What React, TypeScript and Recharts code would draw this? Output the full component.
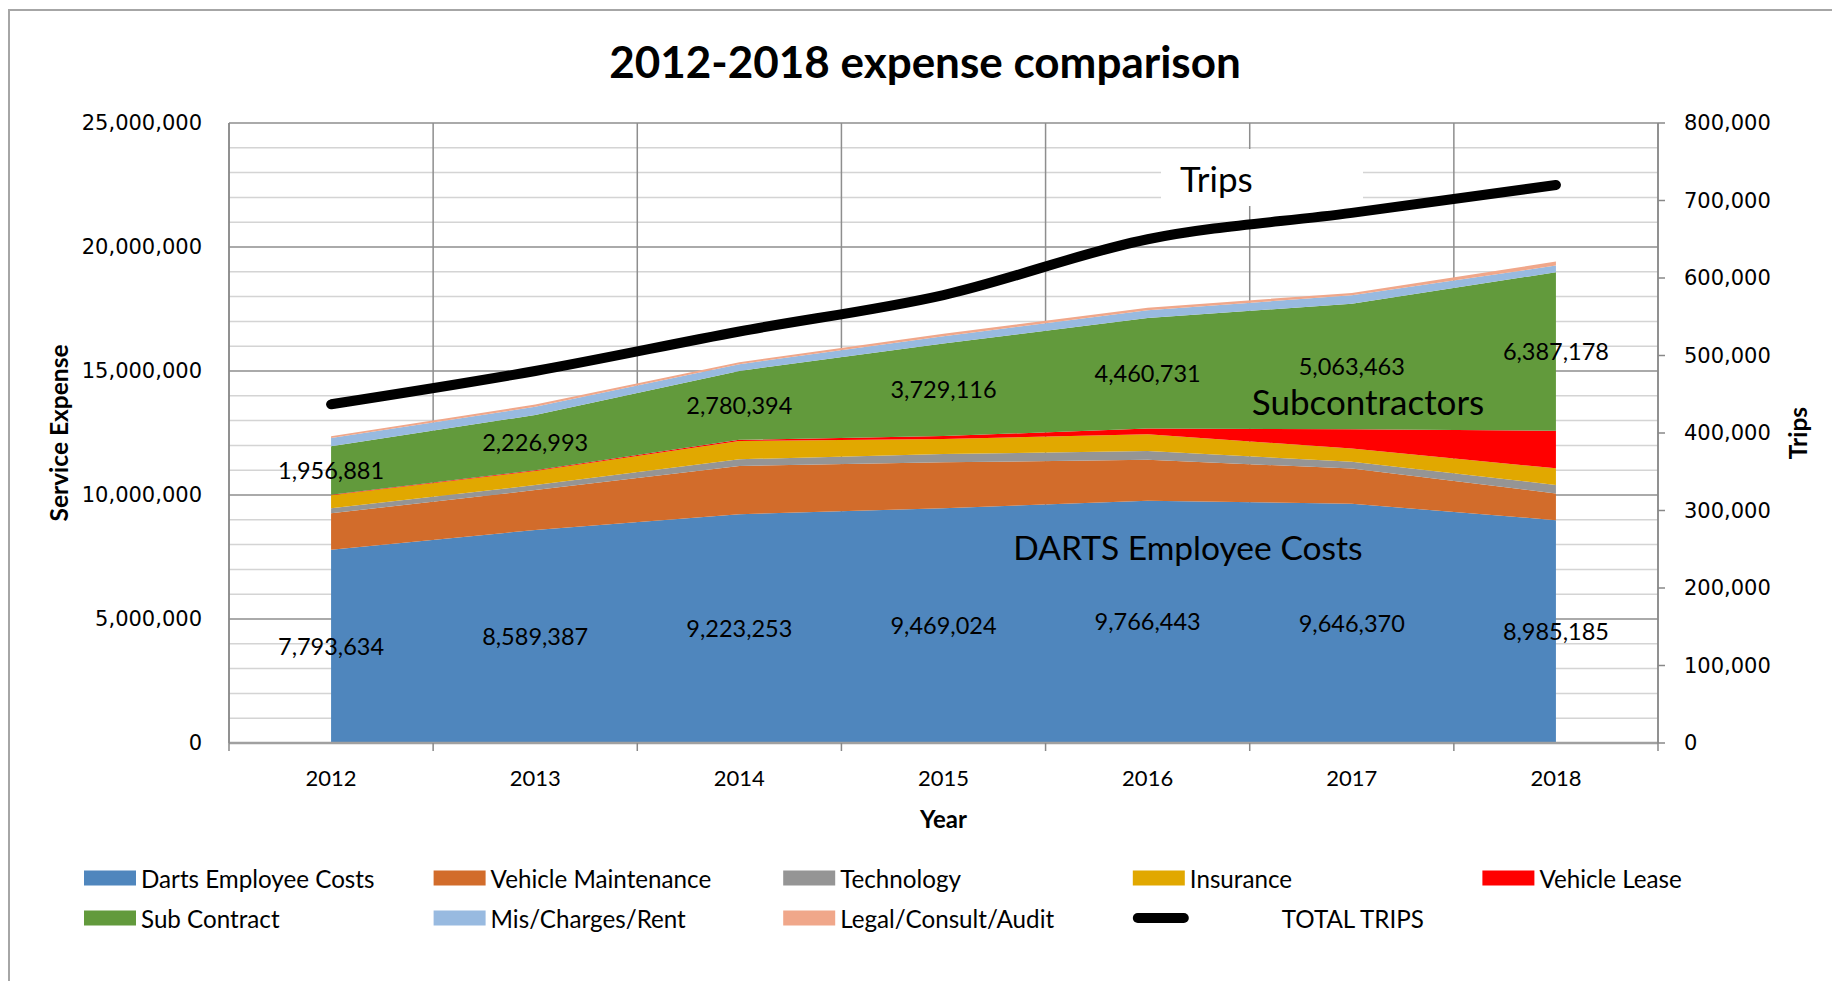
import React from 'react';
import { ComposedChart, Area, Line, XAxis, YAxis, CartesianGrid, LabelList } from 'recharts';

// ---------- data ----------
const years = [2012, 2013, 2014, 2015, 2016, 2017, 2018];
const xBoundaries = [2011.5, 2012.5, 2013.5, 2014.5, 2015.5, 2016.5, 2017.5, 2018.5];

const dartsEmployeeCosts = [7793634, 8589387, 9223253, 9469024, 9766443, 9646370, 8985185];
const vehicleMaintenance = [1470000, 1610000, 1950000, 1850000, 1650000, 1420000, 1080000];
const technology = [200000, 200000, 270000, 330000, 360000, 270000, 340000];
const insurance = [530000, 570000, 730000, 610000, 670000, 540000, 670000];
const vehicleLease = [20000, 30000, 50000, 120000, 230000, 770000, 1520000];
const subContract = [1956881, 2226993, 2780394, 3729116, 4460731, 5063463, 6387178];
const misChargesRent = [330000, 330000, 270000, 290000, 310000, 340000, 270000];
const legalConsultAudit = [70000, 90000, 80000, 100000, 100000, 100000, 160000];
const totalTrips = [437000, 480000, 531000, 578000, 650000, 684000, 720000];

const leftTicks = [0, 5000000, 10000000, 15000000, 20000000, 25000000];
const leftMinorGrid = [
  1000000, 2000000, 3000000, 4000000, 6000000, 7000000, 8000000, 9000000,
  11000000, 12000000, 13000000, 14000000, 16000000, 17000000, 18000000, 19000000,
  21000000, 22000000, 23000000, 24000000,
];
const rightTicks = [0, 100000, 200000, 300000, 400000, 500000, 600000, 700000, 800000];

const series = [
  { key: 'emp', name: 'Darts Employee Costs', color: '#4F86BD', values: dartsEmployeeCosts },
  { key: 'vm', name: 'Vehicle Maintenance', color: '#D26C2B', values: vehicleMaintenance },
  { key: 'tech', name: 'Technology', color: '#959595', values: technology },
  { key: 'ins', name: 'Insurance', color: '#E1A800', values: insurance },
  { key: 'lease', name: 'Vehicle Lease', color: '#FF0000', values: vehicleLease },
  { key: 'sub', name: 'Sub Contract', color: '#629A3C', values: subContract },
  { key: 'mis', name: 'Mis/Charges/Rent', color: '#98BAE0', values: misChargesRent },
  { key: 'legal', name: 'Legal/Consult/Audit', color: '#F0A78A', values: legalConsultAudit },
];

const data = years.map((year, i) => {
  const row: Record<string, number> = { year, trips: totalTrips[i] };
  series.forEach((s) => {
    row[s.key] = s.values[i];
  });
  row.empMid = dartsEmployeeCosts[i] / 2;
  row.subMid =
    dartsEmployeeCosts[i] + vehicleMaintenance[i] + technology[i] + insurance[i] + vehicleLease[i] + subContract[i] / 2;
  return row;
});

// ---------- layout / style ----------
const W = 1832;
const H = 981;
const MARGIN = { top: 123, right: 24, bottom: 138, left: 58 };
const LEFT_AXIS_W = 171;
const RIGHT_AXIS_W = 150;
const X_AXIS_H = 100;
const PLOT_W = W - MARGIN.left - MARGIN.right - LEFT_AXIS_W - RIGHT_AXIS_W;
const HALF_BAND = PLOT_W / years.length / 2;

const TEXT_FONT = "Lato, 'Open Sans', sans-serif";
const TICK_FONT = "'DejaVu Sans', Verdana, sans-serif";
const AXIS_GRAY = '#888888';

const fmt = (v: number) => Number(v).toLocaleString('en-US');

const XTick = (props: any) => {
  const { x, y, index } = props;
  if (index >= years.length) return null;
  return (
    <text x={x + HALF_BAND} y={y} textAnchor="middle" dominantBaseline="central" fontFamily={TEXT_FONT} fontSize={22} fill="#000">
      {years[index]}
    </text>
  );
};

const leftTitle = (props: any) => {
  const vb = props.viewBox;
  const x = vb.x;
  const y = vb.y + vb.height / 2;
  return (
    <text x={x} y={y} transform={`rotate(-90, ${x}, ${y})`} textAnchor="middle" dominantBaseline="central" fontFamily={TEXT_FONT} fontWeight="bold" fontSize={24.5} fill="#000">
      Service Expense
    </text>
  );
};

const rightTitle = (props: any) => {
  const vb = props.viewBox;
  const x = vb.x + 139;
  const y = vb.y + vb.height / 2;
  return (
    <text x={x} y={y} transform={`rotate(-90, ${x}, ${y})`} textAnchor="middle" dominantBaseline="central" fontFamily={TEXT_FONT} fontWeight="bold" fontSize={24.5} fill="#000">
      Trips
    </text>
  );
};

const bottomTitle = (props: any) => {
  const vb = props.viewBox;
  return (
    <text x={vb.x + vb.width / 2} y={vb.y + 75} textAnchor="middle" dominantBaseline="central" fontFamily={TEXT_FONT} fontWeight="bold" fontSize={24} fill="#000">
      Year
    </text>
  );
};

const legendItems = [
  ...series.map((s) => ({ name: s.name, color: s.color, type: 'rect' })),
  { name: 'TOTAL TRIPS', color: '#000000', type: 'line' },
];

export default function App() {
  return (
    <div style={{ position: 'absolute', left: 0, top: 0, width: W, height: H, overflow: 'hidden', background: '#fff' }}>
      <div style={{ position: 'absolute', left: 8, top: 9, width: W + 100, height: H + 100, border: '2px solid #A6A6A6', boxSizing: 'border-box' }} />
      <div style={{ position: 'absolute', left: 0, top: 0 }}>
        <ComposedChart width={W} height={H} data={data} margin={MARGIN}>
          <CartesianGrid yAxisId="left" horizontalValues={leftMinorGrid} vertical={false} stroke="#D4D4D4" strokeWidth={1.5} />
          <CartesianGrid yAxisId="left" horizontal vertical stroke="#8E8E8E" strokeWidth={1.5} />
          <XAxis
            dataKey="year"
            type="number"
            domain={[2011.5, 2018.5]}
            ticks={xBoundaries}
            interval={0}
            height={X_AXIS_H}
            tickSize={8}
            tickMargin={26}
            tick={<XTick />}
            axisLine={{ stroke: '#A0A0A0', strokeWidth: 2.5 }}
            tickLine={{ stroke: AXIS_GRAY, strokeWidth: 1.5 }}
            label={bottomTitle}
          />
          <YAxis
            yAxisId="left"
            orientation="left"
            width={LEFT_AXIS_W}
            domain={[0, 25000000]}
            ticks={leftTicks}
            interval={0}
            tickFormatter={fmt}
            tickLine={false}
            tickSize={8}
            tickMargin={19}
            axisLine={{ stroke: AXIS_GRAY, strokeWidth: 1.5 }}
            tick={{ fontFamily: TICK_FONT, fontSize: 21, fill: '#000' }}
            label={leftTitle}
          />
          <YAxis
            yAxisId="right"
            orientation="right"
            width={RIGHT_AXIS_W}
            domain={[0, 800000]}
            ticks={rightTicks}
            interval={0}
            tickFormatter={fmt}
            tickSize={7}
            tickMargin={19}
            axisLine={{ stroke: AXIS_GRAY, strokeWidth: 1.5 }}
            tickLine={{ stroke: AXIS_GRAY, strokeWidth: 1.5 }}
            tick={{ fontFamily: TICK_FONT, fontSize: 21, fill: '#000' }}
            label={rightTitle}
          />
          {series.map((s) => (
            <Area
              key={s.key}
              yAxisId="left"
              type="linear"
              dataKey={s.key}
              name={s.name}
              stackId="exp"
              fill={s.color}
              fillOpacity={1}
              stroke="none"
              isAnimationActive={false}
              activeDot={false}
            />
          ))}
          <Line
            yAxisId="right"
            type="monotone"
            dataKey="trips"
            name="TOTAL TRIPS"
            stroke="#000"
            strokeWidth={10}
            strokeLinecap="round"
            dot={false}
            activeDot={false}
            isAnimationActive={false}
          />
          <Line yAxisId="left" type="linear" dataKey="empMid" stroke="none" dot={false} activeDot={false} isAnimationActive={false} legendType="none">
            <LabelList dataKey="emp" position="center" formatter={fmt} fontFamily={TEXT_FONT} fontSize={23.5} fill="#000" />
          </Line>
          <Line yAxisId="left" type="linear" dataKey="subMid" stroke="none" dot={false} activeDot={false} isAnimationActive={false} legendType="none">
            <LabelList dataKey="sub" position="center" formatter={fmt} fontFamily={TEXT_FONT} fontSize={23.5} fill="#000" />
          </Line>
        </ComposedChart>
      </div>
      <svg width={W} height={H} style={{ position: 'absolute', left: 0, top: 0, pointerEvents: 'none' }}>
        <text x={925} y={61} textAnchor="middle" dominantBaseline="central" fontFamily={TEXT_FONT} fontWeight="bold" fontSize={44} fill="#000">
          2012-2018 expense comparison
        </text>
        <rect x={1161} y={149} width={202} height={57} fill="#fff" />
        <text x={1180} y={178} textAnchor="start" dominantBaseline="central" fontFamily={TEXT_FONT} fontSize={35} fill="#000">
          Trips
        </text>
        <text x={1368} y={401} textAnchor="middle" dominantBaseline="central" fontFamily={TEXT_FONT} fontSize={35} fill="#000">
          Subcontractors
        </text>
        <text x={1188} y={547} textAnchor="middle" dominantBaseline="central" fontFamily={TEXT_FONT} fontSize={33.6} fill="#000">
          DARTS Employee Costs
        </text>
        {legendItems.map((it, i) => {
          const col = i % 5;
          const row = Math.floor(i / 5);
          const x0 = 84 + col * 349.6;
          const cy = 878 + row * 40;
          if (it.type === 'line') {
            return (
              <g key={it.name}>
                <line x1={x0 + 5} y1={cy} x2={x0 + 51} y2={cy} stroke={it.color} strokeWidth={10} strokeLinecap="round" />
                <text x={x0 + 149} y={cy} dominantBaseline="central" fontFamily={TEXT_FONT} fontSize={24.2} fill="#000">
                  {it.name}
                </text>
              </g>
            );
          }
          return (
            <g key={it.name}>
              <rect x={x0} y={cy - 7.5} width={52} height={15} fill={it.color} />
              <text x={x0 + 57} y={cy} dominantBaseline="central" fontFamily={TEXT_FONT} fontSize={24.2} fill="#000">
                {it.name}
              </text>
            </g>
          );
        })}
      </svg>
    </div>
  );
}
